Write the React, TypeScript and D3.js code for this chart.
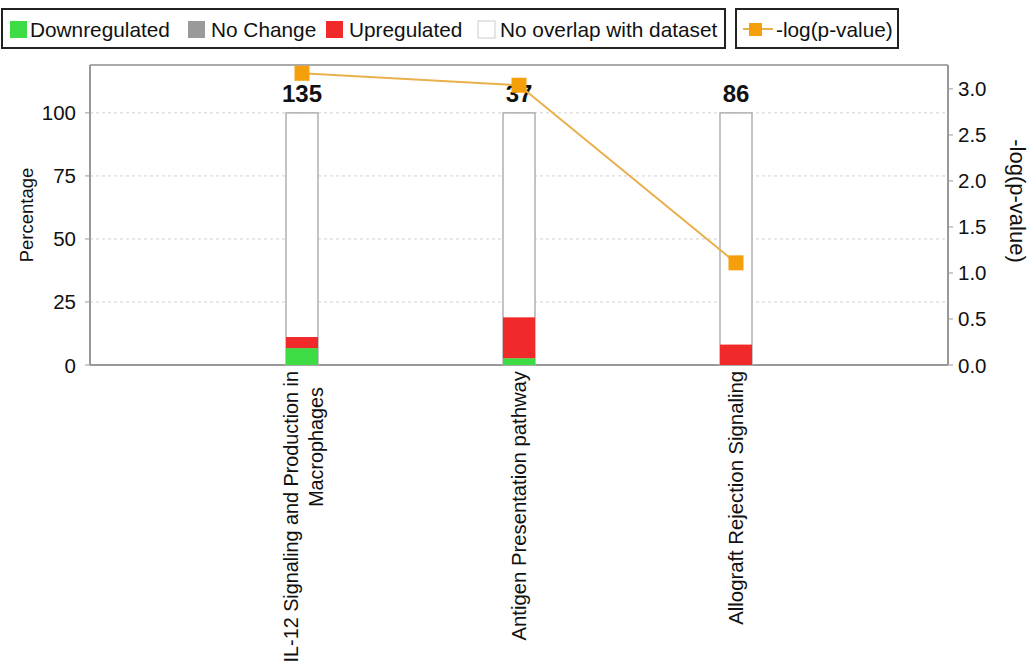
import React from "react";
import * as d3 from "d3";

const categories = [
  "IL-12 Signaling and Production in Macrophages",
  "Antigen Presentation pathway",
  "Allograft Rejection Signaling",
];
const categoryLines = [
  ["IL-12 Signaling and Production in", "Macrophages"],
  ["Antigen Presentation pathway"],
  ["Allograft Rejection Signaling"],
];
const downregulated = [6.7, 2.7, 0];
const noChange = [0, 0, 0];
const upregulated = [4.4, 16.2, 8.1];
const totals = [135, 37, 86];
const negLogP = [3.17, 3.04, 1.11];
const leftTicks = [0, 25, 50, 75, 100];
const rightTicks = [0, 0.5, 1.0, 1.5, 2.0, 2.5, 3.0];

const FONT = "'Liberation Sans', Arial, Helvetica, sans-serif";
const W = 1029;
const H = 666;
const L = 90;
const R = 948;
const T = 65;
const B = 365;

const GREEN = "#3ddc44";
const GRAY = "#9a9a9a";
const RED = "#f02a2a";
const ORANGE = "#f5a00a";
const LINE = "#e9b04c";

export default function App() {
  const x = d3.scalePoint<string>().domain(categories).range([L, R]).padding(0.977);
  const yL = d3.scaleLinear().domain([0, 119]).range([B, T]);
  const yR = d3.scaleLinear().domain([0, 3.26]).range([B, T]);
  const barW = 32;

  const lineGen = d3
    .line<number>()
    .x((_, i) => x(categories[i]) as number)
    .y((d) => yR(d));

  const legendItems = [
    { label: "Downregulated", color: GREEN, x: 10, tx: 30 },
    { label: "No Change", color: GRAY, x: 188, tx: 211 },
    { label: "Upregulated", color: RED, x: 326, tx: 349 },
    { label: "No overlap with dataset", color: "#fff", x: 478, tx: 500 },
  ];

  return (
    <svg
      width={W}
      height={H}
      style={{ position: "absolute", left: 0, top: 0, background: "#fff" }}
      fontFamily={FONT}
    >
      {/* Legend */}
      <rect x={2} y={9} width={723} height={39} fill="#fff" stroke="#222" strokeWidth={2} />
      {legendItems.map((d) => (
        <g key={d.label}>
          <rect
            x={d.x}
            y={21}
            width={17}
            height={17}
            fill={d.color}
            stroke={d.color === "#fff" ? "#ccc" : "none"}
          />
          <text x={d.tx} y={37} fontSize={20.8} fill="#111">
            {d.label}
          </text>
        </g>
      ))}
      <rect x={736} y={9} width={162} height={39} fill="#fff" stroke="#222" strokeWidth={2} />
      <line x1={743} x2={773} y1={29} y2={29} stroke={LINE} strokeWidth={2} />
      <rect x={749} y={23} width={13} height={13} fill={ORANGE} />
      <text x={776} y={37} fontSize={20.8} fill="#111">
        -log(p-value)
      </text>

      {/* Grid lines */}
      {leftTicks
        .filter((t) => t > 0)
        .map((t) => (
          <line
            key={t}
            x1={L}
            x2={R}
            y1={yL(t)}
            y2={yL(t)}
            stroke="#d0d0d0"
            strokeDasharray="3,3"
          />
        ))}

      {/* Frame */}
      <line x1={L} x2={R} y1={T} y2={T} stroke="#aaa" strokeWidth={2} />
      <line x1={L} x2={L} y1={T} y2={B} stroke="#999" strokeWidth={2} />
      <line x1={R} x2={R} y1={T} y2={B} stroke="#999" strokeWidth={2} />
      <line x1={L} x2={R} y1={B} y2={B} stroke="#999" strokeWidth={2} />

      {/* Left axis */}
      {leftTicks.map((t) => (
        <g key={t}>
          <line x1={L - 5} x2={L} y1={yL(t)} y2={yL(t)} stroke="#999" />
          <text x={76} y={yL(t)} fontSize={20.5} textAnchor="end" dominantBaseline="central" fill="#111">
            {t}
          </text>
        </g>
      ))}
      <text
        transform={`translate(26,${(T + B) / 2}) rotate(-90)`}
        fontSize={18.5}
        textAnchor="middle"
        dominantBaseline="central"
        fill="#111"
      >
        Percentage
      </text>

      {/* Right axis */}
      {rightTicks.map((t) => (
        <g key={t}>
          <line x1={R} x2={R + 5} y1={yR(t)} y2={yR(t)} stroke="#999" />
          <text x={958} y={yR(t)} fontSize={20.5} dominantBaseline="central" fill="#111">
            {t.toFixed(1)}
          </text>
        </g>
      ))}
      <text
        transform={`translate(1017,${(T + B) / 2 - 14}) rotate(90)`}
        fontSize={22}
        textAnchor="middle"
        dominantBaseline="central"
        fill="#111"
      >
        -log(p-value)
      </text>

      {/* Bars */}
      {categories.map((c, i) => {
        const cx = x(c) as number;
        const x0 = cx - barW / 2;
        const d0 = downregulated[i];
        const n0 = noChange[i];
        const u0 = upregulated[i];
        return (
          <g key={c}>
            <rect x={x0} y={yL(100)} width={barW} height={yL(0) - yL(100)} fill="#fff" stroke="#b0b0b0" strokeWidth={1.5} />
            {d0 > 0 && <rect x={x0} y={yL(d0)} width={barW} height={yL(0) - yL(d0)} fill={GREEN} />}
            {n0 > 0 && <rect x={x0} y={yL(d0 + n0)} width={barW} height={yL(d0) - yL(d0 + n0)} fill={GRAY} />}
            {u0 > 0 && (
              <rect x={x0} y={yL(d0 + n0 + u0)} width={barW} height={yL(d0 + n0) - yL(d0 + n0 + u0)} fill={RED} />
            )}
            <text x={cx} y={102} fontSize={24} fontWeight="bold" textAnchor="middle" fill="#111">
              {totals[i]}
            </text>
          </g>
        );
      })}

      {/* Line */}
      <path d={lineGen(negLogP) || ""} fill="none" stroke={LINE} strokeWidth={2} />
      {negLogP.map((v, i) => (
        <rect
          key={i}
          x={(x(categories[i]) as number) - 7.5}
          y={yR(v) - 7.5}
          width={15}
          height={15}
          fill={ORANGE}
        />
      ))}

      {/* X labels */}
      {categories.map((c, i) => {
        const cx = x(c) as number;
        const lines = categoryLines[i];
        return (
          <g key={c} transform={`translate(${cx},371) rotate(-90)`}>
            {lines.length === 1 ? (
              <text x={0} y={0} fontSize={20.3} textAnchor="end" dominantBaseline="central" fill="#111">
                {lines[0]}
              </text>
            ) : (
              <>
                <text x={0} y={-11} fontSize={19.8} textAnchor="end" dominantBaseline="central" fill="#111">
                  {lines[0]}
                </text>
                <text x={-16} y={14} fontSize={19.8} textAnchor="end" dominantBaseline="central" fill="#111">
                  {lines[1]}
                </text>
              </>
            )}
          </g>
        );
      })}
    </svg>
  );
}
